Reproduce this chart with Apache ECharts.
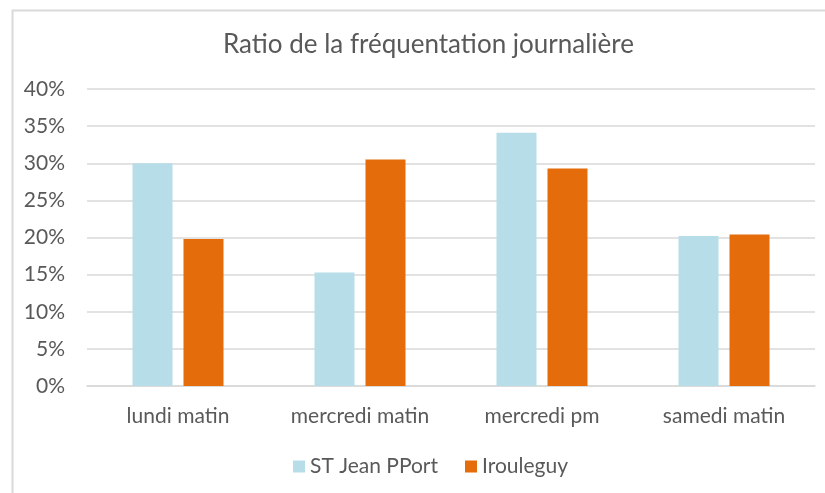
<!DOCTYPE html>
<html>
<head>
<meta charset="utf-8">
<script src="https://cdn.jsdelivr.net/npm/echarts@6/dist/echarts.min.js"></script>
<style>
  html, body { margin: 0; padding: 0; background: #fff; }
  #chart { width: 825px; height: 493px; }
</style>
</head>
<body>
<div id="chart"></div>
<script>
const titleText = "Ratio de la fréquentation journalière";
const categories = ["lundi matin", "mercredi matin", "mercredi pm", "samedi matin"];
const seriesNames = ["ST Jean PPort", "Irouleguy"];
const stJeanValues = [30.0, 15.3, 34.1, 20.2];
const irouleguyValues = [19.8, 30.5, 29.3, 20.4];
const yTicks = { min: 0, max: 40, interval: 5 };

const FONT = "Lato, 'Open Sans', sans-serif";
const TEXT = "#595959";

const chart = echarts.init(document.getElementById('chart'), null, { renderer: 'canvas' });
chart.setOption({
  animation: false,
  backgroundColor: '#ffffff',
  graphic: [{
    type: 'rect',
    left: 10, top: 8,
    shape: { width: 840, height: 520 },
    style: { fill: 'none', stroke: '#d9d9d9', lineWidth: 2 },
    silent: true, z: -1
  }],
  title: {
    text: titleText,
    left: 218,
    top: 27,
    textStyle: { fontFamily: FONT, fontSize: 26, fontWeight: 'normal', color: TEXT }
  },
  legend: {
    data: seriesNames,
    bottom: 11,
    left: 288,
    icon: 'rect',
    itemWidth: 12,
    itemHeight: 12,
    itemGap: 27,
    textStyle: { fontFamily: FONT, fontSize: 21, color: TEXT, padding: [0, 0, 0, 0] }
  },
  grid: { left: 87, right: 10, top: 89, bottom: 107, containLabel: false },
  xAxis: {
    type: 'category',
    data: categories,
    axisLine: { lineStyle: { color: '#d9d9d9', width: 1.5 } },
    axisTick: { show: false },
    axisLabel: { fontFamily: FONT, fontSize: 21, color: TEXT, margin: 20 }
  },
  yAxis: {
    type: 'value',
    min: yTicks.min, max: yTicks.max, interval: yTicks.interval,
    axisLine: { show: false },
    axisTick: { show: false },
    splitLine: { lineStyle: { color: '#d9d9d9', width: 1.5 } },
    axisLabel: { fontFamily: FONT, fontSize: 21, color: TEXT, margin: 22, formatter: '{value}%' }
  },
  series: [
    {
      name: seriesNames[0], type: 'bar', data: stJeanValues,
      barWidth: 40, barGap: '27.5%',
      itemStyle: { color: '#B7DEE8' }
    },
    {
      name: seriesNames[1], type: 'bar', data: irouleguyValues,
      barWidth: 40, barGap: '27.5%',
      itemStyle: { color: '#E46C0A' }
    }
  ]
});
</script>
</body>
</html>
